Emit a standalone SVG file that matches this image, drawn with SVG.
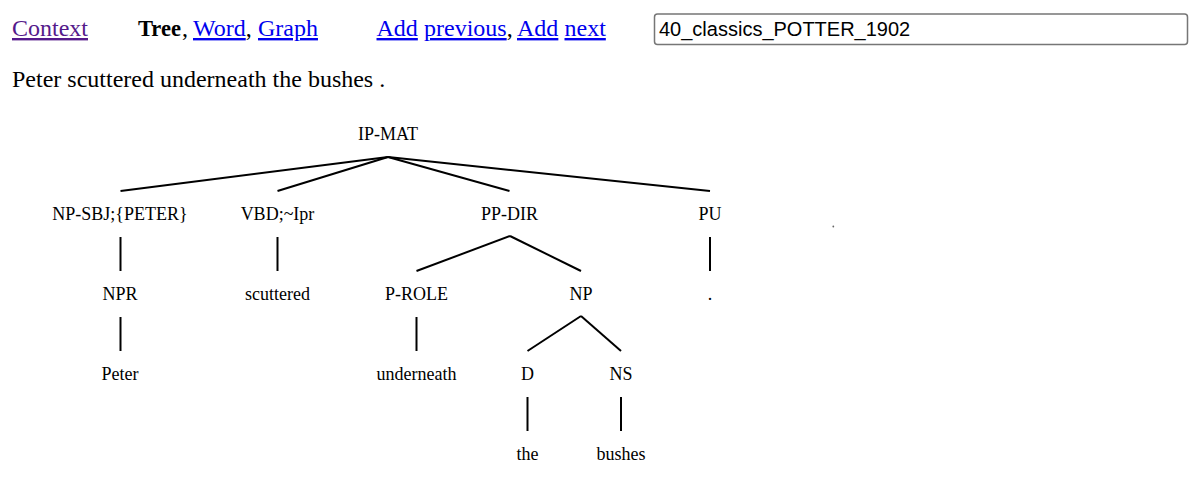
<svg xmlns="http://www.w3.org/2000/svg" width="1201" height="484" viewBox="0 0 1201 484">
<style>
.top{font-family:"Liberation Serif","Times New Roman",serif;font-size:24px;fill:#000}
.link{fill:#0000EE;text-decoration:underline}
.visited{fill:#551A8B;text-decoration:underline}
.b{font-weight:bold}
.n{font-family:"Liberation Serif","Times New Roman",serif;font-size:18px;fill:#000;text-anchor:middle}
.e{stroke:#000;stroke-width:2;fill:none;stroke-linecap:butt}
</style>
<rect width="1201" height="484" fill="#fff"/>
<g id="toolbar">
<text class="top" x="12" y="36"><tspan class="visited">Context</tspan></text>
<text class="top b" x="138" y="36" textLength="43" lengthAdjust="spacingAndGlyphs">Tree</text>
<text class="top" x="182" y="36">,<tspan x="193" class="link">Word</tspan>,<tspan x="258" class="link">Graph</tspan></text>
<text class="top" x="376.5" y="36"><tspan class="link">Add</tspan><tspan x="424" class="link">previous</tspan>,<tspan x="517" class="link">Add</tspan><tspan x="564.5" class="link">next</tspan></text>
<rect x="654.5" y="14" width="533" height="30.5" rx="3" fill="#fff" stroke="#767676" stroke-width="1.5"/>
<text x="659" y="36" font-family="'Liberation Sans',Arial,sans-serif" font-size="20" fill="#000">40_classics_POTTER_1902</text>
</g>
<text class="top" x="12" y="87">Peter scuttered underneath the bushes .</text>
<g id="connectors">
<line class="e" x1="388" y1="157" x2="120.5" y2="191"/>
<line class="e" x1="388" y1="157" x2="277.5" y2="191"/>
<line class="e" x1="388" y1="157" x2="509.5" y2="191"/>
<line class="e" x1="388" y1="157" x2="710" y2="191"/>
<line class="e" x1="120.5" y1="237" x2="120.5" y2="271"/>
<line class="e" x1="277.5" y1="237" x2="277.5" y2="271"/>
<line class="e" x1="510" y1="236" x2="416.5" y2="271"/>
<line class="e" x1="510" y1="236" x2="581" y2="271"/>
<line class="e" x1="710" y1="237" x2="710" y2="271"/>
<line class="e" x1="120.5" y1="317" x2="120.5" y2="351"/>
<line class="e" x1="416.5" y1="317" x2="416.5" y2="351"/>
<line class="e" x1="581" y1="316" x2="527.5" y2="351"/>
<line class="e" x1="581" y1="316" x2="621" y2="351"/>
<line class="e" x1="527.5" y1="397" x2="527.5" y2="431"/>
<line class="e" x1="621" y1="397" x2="621" y2="431"/>
</g>
<g id="n-ipmat"><text class="n" x="388" y="140">IP-MAT</text></g>
<g id="n-npsbj"><text class="n" x="120" y="220">NP-SBJ;{PETER}</text></g>
<g id="n-vbd"><text class="n" x="277.5" y="220">VBD;~Ipr</text></g>
<g id="n-ppdir"><text class="n" x="509.5" y="220">PP-DIR</text></g>
<g id="n-pu"><text class="n" x="710" y="220">PU</text></g>
<g id="n-npr"><text class="n" x="120" y="300">NPR</text></g>
<g id="n-scuttered"><text class="n" x="277.5" y="300">scuttered</text></g>
<g id="n-prole"><text class="n" x="416.5" y="300">P-ROLE</text></g>
<g id="n-np"><text class="n" x="581" y="300">NP</text></g>
<g id="n-dot"><text class="n" x="710" y="300">.</text></g>
<g id="n-peter"><text class="n" x="120" y="380">Peter</text></g>
<g id="n-underneath"><text class="n" x="416.5" y="380">underneath</text></g>
<g id="n-d"><text class="n" x="527.5" y="380">D</text></g>
<g id="n-ns"><text class="n" x="621" y="380">NS</text></g>
<g id="n-the"><text class="n" x="527.5" y="460">the</text></g>
<g id="n-bushes"><text class="n" x="621" y="460">bushes</text></g>
<circle cx="833.3" cy="226.5" r="0.9" fill="#666"/>
</svg>
